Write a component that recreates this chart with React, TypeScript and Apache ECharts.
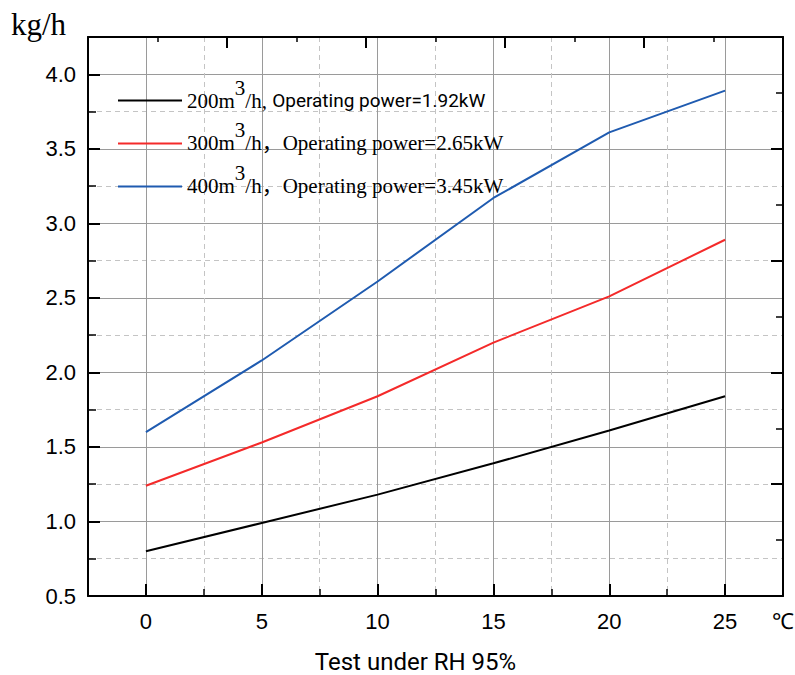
import React, { useEffect, useRef } from 'react';
import * as echarts from 'echarts';

// ---- data ----
const temperatures = [0, 5, 10, 15, 20, 25];
const flow200 = [0.8, 0.99, 1.18, 1.39, 1.61, 1.84];
const flow300 = [1.24, 1.53, 1.84, 2.2, 2.51, 2.89];
const flow400 = [1.6, 2.08, 2.61, 3.17, 3.61, 3.89];
const airVolumes = ['200', '300', '400'];
const powers = ['1.92', '2.65', '3.45'];
const seriesColors = ['#000000', '#f42a2a', '#1f5bb0'];

const xMajorTicks = [0, 5, 10, 15, 20, 25];
const xMinorTicks = [2.5, 7.5, 12.5, 17.5, 22.5];
const xLabelValues = [0, 5, 10, 15, 20, 25, 27.5];
const yMajorTicks = [0.5, 1.0, 1.5, 2.0, 2.5, 3.0, 3.5, 4.0];
const yMinorTicks = [0.75, 1.25, 1.75, 2.25, 2.75, 3.25, 3.75];

const SANS = '"Liberation Sans", Arial, sans-serif';
const SERIF = '"Liberation Serif", "Times New Roman", "Noto Sans CJK SC", serif';

export default function App() {
  const ref = useRef<HTMLDivElement>(null);

  useEffect(() => {
    if (!ref.current) return;
    const chart = echarts.init(ref.current, undefined, { renderer: 'svg' });
    const allFlows = [flow200, flow300, flow400];
    const seriesNames = airVolumes.map((v) => v + 'm3/h');

    const option: any = {
      animation: false,
      backgroundColor: '#ffffff',
      grid: { left: 88, right: 12, top: 37, bottom: 79, containLabel: false, outerBoundsMode: 'none' },
      graphic: [
        {
          type: 'text',
          left: 11,
          top: 9,
          style: { text: 'kg/h', font: '31px ' + SERIF, fill: '#000' },
        },
      ],
      legend: {
        orient: 'vertical',
        left: 118,
        top: 77,
        padding: 0,
        icon: 'rect',
        itemWidth: 64,
        itemHeight: 2,
        itemGap: 9,
        data: seriesNames,
        formatter: (name: string) => {
          const i = seriesNames.indexOf(name);
          if (i === 0) {
            return `{s|${airVolumes[i]}m}{sup|3}{s|/h, }{o|Operating power=${powers[i]}kW}`;
          }
          return `{s|${airVolumes[i]}m}{sup|3}{s|/h，Operating power=${powers[i]}kW}`;
        },
        textStyle: {
          color: '#000',
          rich: {
            s: { fontFamily: SERIF, fontSize: 21, color: '#000' },
            o: { fontFamily: 'Roboto, sans-serif', fontSize: 19, color: '#000' },
            sup: { fontFamily: SERIF, fontSize: 21, color: '#000', padding: [0, 0, 26, 0] },
          },
        },
      },
      xAxis: [
        {
          type: 'value',
          min: -2.5,
          max: 27.5,
          position: 'bottom',
          name: 'Test under RH 95%',
          nameLocation: 'middle',
          nameGap: 54,
          nameTextStyle: {
            fontFamily: 'Roboto, sans-serif',
            fontSize: 24,
            lineHeight: 24,
            color: '#000',
            padding: [0, 40, 0, 0],
          },
          axisLine: { show: true, onZero: false, lineStyle: { color: '#000', width: 2 } },
          axisTick: { show: true, inside: true, length: 12, customValues: xMajorTicks, lineStyle: { color: '#000', width: 2 } },
          axisLabel: {
            show: true,
            margin: 14,
            customValues: xLabelValues,
            fontFamily: SANS,
            fontSize: 22,
            color: '#000',
            formatter: (v: number) => (v === 27.5 ? '℃' : String(v)),
          },
          splitLine: { show: true, lineStyle: { color: '#9a9a9a', width: 1 } },
        },
        {
          type: 'value',
          min: -2.5,
          max: 27.5,
          position: 'bottom',
          axisLine: { show: false, onZero: false },
          axisTick: { show: true, inside: true, length: 7, customValues: xMinorTicks, lineStyle: { color: '#000', width: 1.5 } },
          axisLabel: { show: false },
          splitLine: { show: true, lineStyle: { color: '#c4c4c4', width: 1, type: [5, 4] } },
        },
        {
          type: 'value',
          min: 0,
          max: 1,
          interval: 0.2,
          position: 'top',
          axisLine: { show: true, onZero: false, lineStyle: { color: '#000', width: 2 } },
          axisTick: { show: true, inside: true, length: 11, lineStyle: { color: '#000', width: 2 } },
          minorTick: { show: true, splitNumber: 2, length: 5, lineStyle: { color: '#000', width: 1.5 } },
          axisLabel: { show: false },
          splitLine: { show: false },
        },
      ],
      yAxis: [
        {
          type: 'value',
          min: 0.5,
          max: 4.25,
          position: 'left',
          axisLine: { show: true, onZero: false, lineStyle: { color: '#000', width: 2 } },
          axisTick: { show: true, inside: true, length: 12, customValues: yMajorTicks, lineStyle: { color: '#000', width: 2 } },
          axisLabel: {
            show: true,
            margin: 12,
            customValues: yMajorTicks,
            fontFamily: SANS,
            fontSize: 22,
            color: '#000',
            formatter: (v: number) => v.toFixed(1),
          },
          splitLine: { show: true, lineStyle: { color: '#9a9a9a', width: 1 } },
        },
        {
          type: 'value',
          min: 0.5,
          max: 4.25,
          position: 'left',
          axisLine: { show: false, onZero: false },
          axisTick: { show: true, inside: true, length: 8, customValues: yMinorTicks, lineStyle: { color: '#000', width: 1.5 } },
          axisLabel: { show: false },
          splitLine: { show: true, lineStyle: { color: '#c4c4c4', width: 1, type: [5, 4] } },
        },
        {
          type: 'value',
          min: 0,
          max: 1,
          interval: 0.2,
          position: 'right',
          axisLine: { show: true, onZero: false, lineStyle: { color: '#000', width: 2 } },
          axisTick: { show: true, inside: true, length: 12, lineStyle: { color: '#000', width: 2 } },
          minorTick: { show: true, splitNumber: 2, length: 7, lineStyle: { color: '#000', width: 1.5 } },
          axisLabel: { show: false },
          splitLine: { show: false },
        },
      ],
      series: allFlows.map((flows, i) => ({
        name: seriesNames[i],
        type: 'line',
        xAxisIndex: 0,
        yAxisIndex: 0,
        symbol: 'none',
        showSymbol: false,
        z: 5,
        data: temperatures.map((t, k) => [t, flows[k]]),
        lineStyle: { color: seriesColors[i], width: 2 },
        itemStyle: { color: seriesColors[i] },
      })),
    };

    chart.setOption(option);
    return () => chart.dispose();
  }, []);

  return <div ref={ref} style={{ width: 795, height: 675, position: 'absolute', left: 0, top: 0 }} />;
}
